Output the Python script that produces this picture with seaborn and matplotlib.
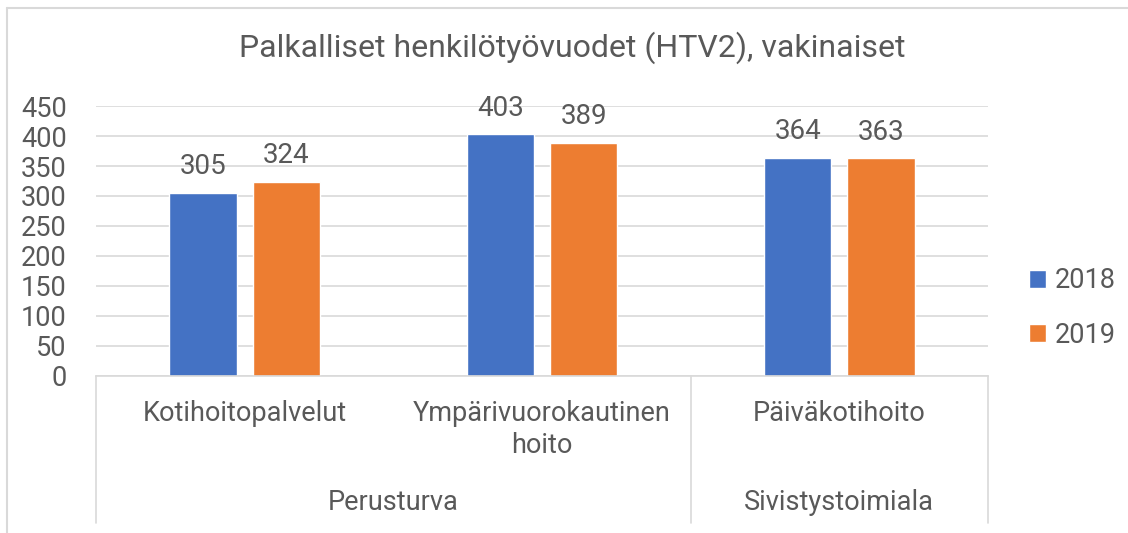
import pandas as pd
import matplotlib.pyplot as plt
import seaborn as sns

# ---------- Data ----------
categories = ["Kotihoitopalvelut", "Ympärivuorokautinen\nhoito", "Päiväkotihoito"]
groups = ["Perusturva", "Sivistystoimiala"]
group_spans = [(0, 1), (2, 2)]  # first/last category index in each group
years = ["2018", "2019"]
values_2018 = [305, 403, 364]
values_2019 = [324, 389, 363]
y_ticks = [0, 50, 100, 150, 200, 250, 300, 350, 400, 450]

df = pd.DataFrame({
    "category": categories * 2,
    "year": [years[0]] * 3 + [years[1]] * 3,
    "value": values_2018 + values_2019,
})

# ---------- Style ----------
sns.set_theme(style="white")
plt.rcParams["font.family"] = ["Roboto", "DejaVu Sans"]
TXT = "#595959"
GRID = "#d9d9d9"
COLORS = ["#4472C4", "#ED7D31"]
FS = 19.5

fig = plt.figure(figsize=(11.28, 5.33), dpi=100)
ax = fig.add_axes([96 / 1128, 1 - 376 / 533, (988 - 96) / 1128, 270 / 533])

sns.barplot(data=df, x="category", y="value", hue="year", palette=COLORS,
            width=0.56, gap=0.19, ax=ax, legend=True, saturation=1)

ax.set_ylim(0, 450)
ax.set_xlim(-0.5, 2.5)
ax.set_yticks(y_ticks)
ax.yaxis.grid(True, color=GRID, linewidth=1.2)
ax.set_axisbelow(True)
for s in ["top", "right", "left"]:
    ax.spines[s].set_visible(False)
ax.spines["bottom"].set_color(GRID)
ax.spines["bottom"].set_linewidth(1.2)
ax.set_xlabel("")
ax.set_ylabel("")
ax.tick_params(axis="y", length=0, pad=21, labelsize=FS, labelcolor=TXT)
ax.tick_params(axis="x", length=0, pad=17, labelsize=FS, labelcolor=TXT)
ax.set_xticks(range(len(categories)))
ax.set_xticklabels(categories, linespacing=1.25)

# data labels
for cont in ax.containers:
    ax.bar_label(cont, fmt="%d", padding=9, fontsize=20, color=TXT)

# group labels and separators of the multi-level axis
trans = ax.get_xaxis_transform()
bottom = -(523 - 376) / 270
for name, (a, b) in zip(groups, group_spans):
    ax.text((a + b) / 2, -(503 - 376) / 270, name, transform=trans,
            ha="center", va="center", fontsize=FS, color=TXT)
for xpos in [-0.5, 1.5, 2.5]:
    ax.plot([xpos, xpos], [0, bottom], transform=trans, color=GRID,
            linewidth=1.2, clip_on=False)

# legend
handles, labels = ax.get_legend_handles_labels()
ax.legend(handles, labels, loc="center left", bbox_to_anchor=(1018 / 1128, 1 - 308 / 533),
          bbox_transform=fig.transFigure, frameon=False, fontsize=FS,
          labelcolor=TXT, handlelength=0.65, handleheight=0.65,
          handletextpad=0.3, labelspacing=1.0, borderaxespad=0)

# title
fig.text(572 / 1128, 1 - 48 / 533, "Palkalliset henkilötyövuodet (HTV2), vakinaiset",
         ha="center", va="center", fontsize=23, color=TXT)

# chart border (left and top edge)
fig.add_artist(plt.Line2D([6.5 / 1128, 6.5 / 1128], [0, 1 - 8 / 533],
                          transform=fig.transFigure, color=GRID, linewidth=1.5))
fig.add_artist(plt.Line2D([6.5 / 1128, 1], [1 - 8 / 533, 1 - 8 / 533],
                          transform=fig.transFigure, color=GRID, linewidth=1.5))

fig.savefig("out.png", dpi=100)
